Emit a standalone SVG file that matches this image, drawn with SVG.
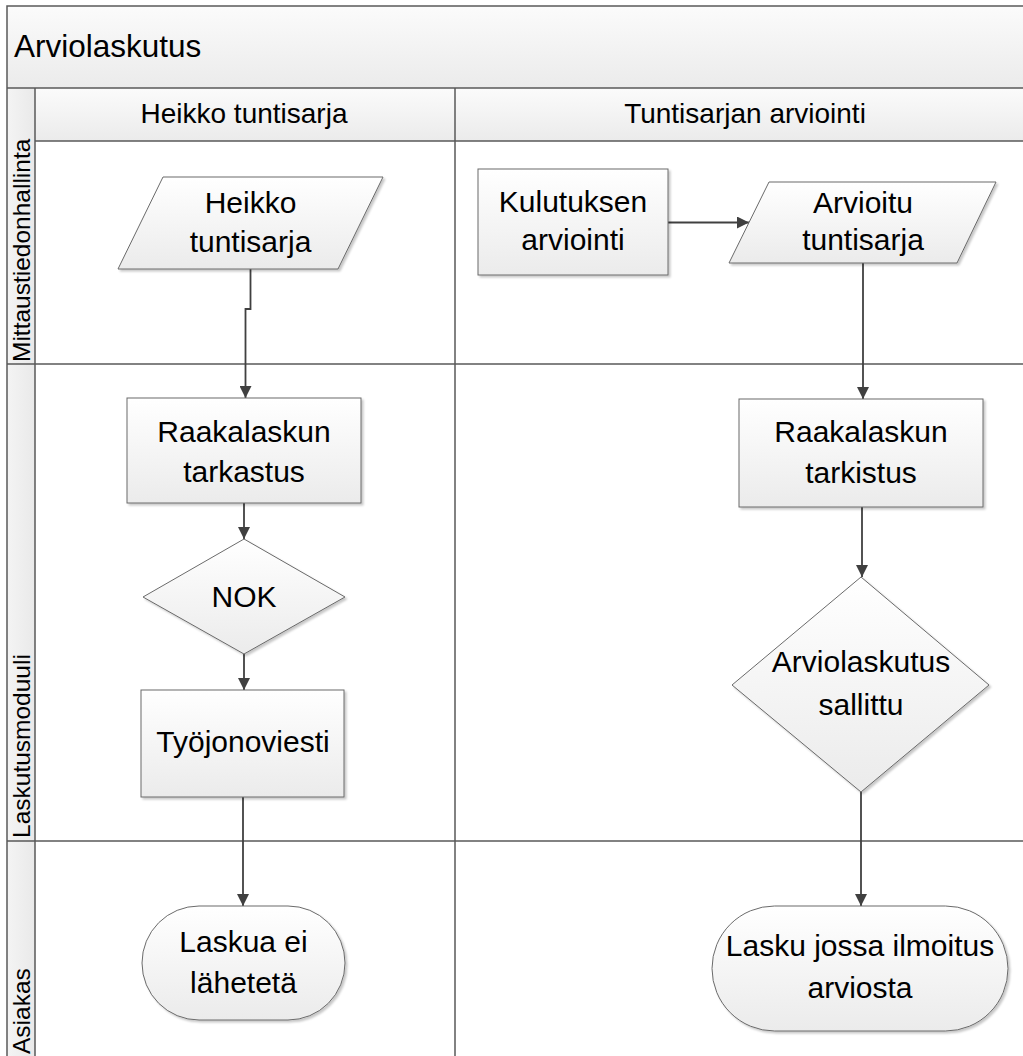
<svg xmlns="http://www.w3.org/2000/svg" width="1023" height="1056" viewBox="0 0 1023 1056">
  <defs>
    <linearGradient id="bandFill" x1="0" y1="0" x2="0" y2="1">
      <stop offset="0" stop-color="#fbfbfb"/>
      <stop offset="1" stop-color="#ebebeb"/>
    </linearGradient>
    <linearGradient id="colFill" x1="0" y1="0" x2="1" y2="0">
      <stop offset="0" stop-color="#f4f4f4"/>
      <stop offset="1" stop-color="#e9e9e9"/>
    </linearGradient>
    <linearGradient id="nodeFill" x1="0" y1="0" x2="0" y2="1">
      <stop offset="0" stop-color="#ffffff"/>
      <stop offset="1" stop-color="#ebebeb"/>
    </linearGradient>
    <filter id="shadow" x="-10%" y="-10%" width="130%" height="130%">
      <feDropShadow dx="2" dy="2" stdDeviation="1.2" flood-color="#000" flood-opacity="0.22"/>
    </filter>
    <marker id="arrow" viewBox="0 0 12 12" refX="12" refY="6" markerWidth="12" markerHeight="12" markerUnits="userSpaceOnUse" orient="auto">
      <path d="M0,0 L12,6 L0,12 Z" fill="#404040"/>
    </marker>
  </defs>
  <style>
    .frame { fill: none; stroke: #595959; stroke-width: 1.5; }
    .grid { stroke: #595959; stroke-width: 1.5; fill: none; }
    .node { fill: url(#nodeFill); stroke: #6a6a6a; stroke-width: 1; filter: url(#shadow); }
    .conn { fill: none; stroke: #404040; stroke-width: 1.8; marker-end: url(#arrow); }
    .label { font-family: "Liberation Sans", Arial, sans-serif; font-size: 30px; fill: #000; text-anchor: middle; }
    .title { font-family: "Liberation Sans", Arial, sans-serif; font-size: 31.5px; fill: #000; }
    .head { font-family: "Liberation Sans", Arial, sans-serif; font-size: 28px; fill: #000; text-anchor: middle; }
    .lane { font-family: "Liberation Sans", Arial, sans-serif; font-size: 24.5px; fill: #000; }
  </style>

  <rect width="1023" height="1056" fill="#ffffff"/>

  <!-- swimlane pool: title band, phase headers, lane labels -->
  <g id="pool">
    <rect x="7" y="6" width="1040" height="82" fill="url(#bandFill)"/>
    <rect x="35" y="88" width="1012" height="53" fill="url(#bandFill)"/>
    <rect x="7" y="88" width="28" height="990" fill="url(#colFill)"/>
    <rect class="frame" x="7" y="6" width="1040" height="1080"/>
    <line class="grid" x1="7" y1="88" x2="1047" y2="88"/>
    <line class="grid" x1="35" y1="141" x2="1047" y2="141"/>
    <line class="grid" x1="7" y1="364" x2="1047" y2="364"/>
    <line class="grid" x1="7" y1="841" x2="1047" y2="841"/>
    <line class="grid" x1="35" y1="88" x2="35" y2="1086"/>
    <line class="grid" x1="455" y1="88" x2="455" y2="1086"/>
    <text class="title" x="14" y="57">Arviolaskutus</text>
    <text class="head" x="244" y="123">Heikko tuntisarja</text>
    <text class="head" x="745" y="123">Tuntisarjan arviointi</text>
    <text class="lane" transform="translate(30,362) rotate(-90)">Mittaustiedonhallinta</text>
    <text class="lane" transform="translate(30,838) rotate(-90)">Laskutusmoduuli</text>
    <text class="lane" transform="translate(30,1054) rotate(-90)">Asiakas</text>
  </g>

  <!-- connectors -->
  <g id="connectors">
    <path class="conn" d="M250.5,269 V309 H245.5 V398"/>
    <path class="conn" d="M244,503 V539"/>
    <path class="conn" d="M244,654 V690"/>
    <path class="conn" d="M243,797 V906"/>
    <path class="conn" d="M668,222.5 H749"/>
    <path class="conn" d="M863,263 V399"/>
    <path class="conn" d="M862,507 V577"/>
    <path class="conn" d="M861,792 V906"/>
  </g>

  <g id="heikko-tuntisarja">
    <polygon class="node" points="163,177 383,177 338,269 118,269"/>
    <text class="label" x="250.5" y="213">Heikko</text>
    <text class="label" x="250.5" y="252">tuntisarja</text>
  </g>

  <g id="raakalaskun-tarkastus">
    <rect class="node" x="127" y="398" width="234" height="105"/>
    <text class="label" x="244" y="442">Raakalaskun</text>
    <text class="label" x="244" y="482">tarkastus</text>
  </g>

  <g id="nok">
    <polygon class="node" points="244,539 345,597 244,654 143,597"/>
    <text class="label" x="244" y="607">NOK</text>
  </g>

  <g id="tyojonoviesti">
    <rect class="node" x="141" y="690" width="203" height="107"/>
    <text class="label" x="243" y="752">Työjonoviesti</text>
  </g>

  <g id="laskua-ei-lahetata">
    <rect class="node" x="142" y="906" width="203" height="114" rx="57" ry="57"/>
    <text class="label" x="243.5" y="952">Laskua ei</text>
    <text class="label" x="243.5" y="993">lähetetä</text>
  </g>

  <g id="kulutuksen-arviointi">
    <rect class="node" x="478" y="169" width="190" height="106"/>
    <text class="label" x="573" y="212">Kulutuksen</text>
    <text class="label" x="573" y="250">arviointi</text>
  </g>

  <g id="arvioitu-tuntisarja">
    <polygon class="node" points="769,182 996,182 957,263 729,263"/>
    <text class="label" x="863" y="213">Arvioitu</text>
    <text class="label" x="863" y="250">tuntisarja</text>
  </g>

  <g id="raakalaskun-tarkistus">
    <rect class="node" x="739" y="399" width="244" height="108"/>
    <text class="label" x="861" y="442">Raakalaskun</text>
    <text class="label" x="861" y="483">tarkistus</text>
  </g>

  <g id="arviolaskutus-sallittu">
    <polygon class="node" points="861,577 989,685 861,792 732,685"/>
    <text class="label" x="861" y="672">Arviolaskutus</text>
    <text class="label" x="861" y="715">sallittu</text>
  </g>

  <g id="lasku-jossa-ilmoitus">
    <rect class="node" x="712" y="906" width="296" height="125" rx="62.5" ry="62.5"/>
    <text class="label" x="860" y="956">Lasku jossa ilmoitus</text>
    <text class="label" x="860" y="998">arviosta</text>
  </g>
</svg>
